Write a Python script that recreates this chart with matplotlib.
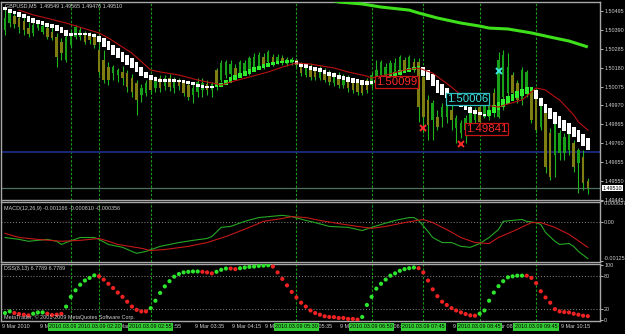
import matplotlib
matplotlib.use("Agg")
import matplotlib.pyplot as plt
import numpy as np
from matplotlib import font_manager
from matplotlib.transforms import blended_transform_factory, offset_copy

# ---------------- data ----------------
symbol = "GBPUSD,M5"

c_open = [1.50389, 1.50428, 1.50467, 1.50456, 1.50439, 1.50400, 1.50373, 1.50400, 1.50378, 1.50400,
          1.50378, 1.50350, 1.50322, 1.50222, 1.50306, 1.50350, 1.50350, 1.50361, 1.50356, 1.50350,
          1.50278, 1.50222, 1.50183, 1.50150, 1.50139, 1.50156, 1.50150, 1.50122, 1.50095, 1.50028,
          1.50039, 1.50128, 1.50067, 1.50122, 1.50078, 1.50122, 1.50067, 1.50106, 1.50100, 1.50083,
          1.50028, 1.50044, 1.50056, 1.50089, 1.50056, 1.50167, 1.50111, 1.50139, 1.50145, 1.50178,
          1.50150, 1.50156, 1.50150, 1.50183, 1.50183, 1.50239, 1.50211, 1.50239, 1.50211, 1.50234,
          1.50200, 1.50206, 1.50222, 1.50195, 1.50139, 1.50183, 1.50167, 1.50122, 1.50167, 1.50150,
          1.50095, 1.50139, 1.50083, 1.50122, 1.50111, 1.50095, 1.50095, 1.50111, 1.50083, 1.50100,
          1.50139, 1.50122, 1.50128, 1.50139, 1.50150, 1.50222, 1.50178, 1.50211, 1.50211, 1.50128,
          1.50000, 1.49889, 1.49905, 1.49905, 1.49905, 1.49944, 1.49844, 1.49817, 1.49833, 1.49872,
          1.49889, 1.49961, 1.49905, 1.49905, 1.50039, 1.49905, 1.50017, 1.50039, 1.50139, 1.50095,
          1.50000, 1.50039, 1.50056, 1.50028, 1.49850, 1.49928, 1.49817, 1.49694, 1.49706, 1.49706,
          1.49722, 1.49761, 1.49650, 1.49683, 1.49549]
c_high = [1.50517, 1.50506, 1.50495, 1.50478, 1.50461, 1.50434, 1.50439, 1.50445, 1.50434, 1.50423,
          1.50406, 1.50373, 1.50345, 1.50373, 1.50389, 1.50417, 1.50406, 1.50384, 1.50378, 1.50373,
          1.50350, 1.50278, 1.50211, 1.50195, 1.50178, 1.50189, 1.50167, 1.50145, 1.50111, 1.50089,
          1.50111, 1.50139, 1.50133, 1.50139, 1.50139, 1.50145, 1.50128, 1.50122, 1.50111, 1.50100,
          1.50089, 1.50122, 1.50122, 1.50111, 1.50100, 1.50178, 1.50222, 1.50222, 1.50222, 1.50200,
          1.50222, 1.50222, 1.50245, 1.50261, 1.50267, 1.50261, 1.50278, 1.50256, 1.50256, 1.50250,
          1.50239, 1.50239, 1.50234, 1.50211, 1.50200, 1.50200, 1.50183, 1.50189, 1.50178, 1.50167,
          1.50156, 1.50156, 1.50145, 1.50139, 1.50122, 1.50111, 1.50111, 1.50122, 1.50156, 1.50222,
          1.50222, 1.50206, 1.50222, 1.50234, 1.50250, 1.50239, 1.50250, 1.50234, 1.50234, 1.50156,
          1.50028, 1.50000, 1.49944, 1.49983, 1.50000, 1.49972, 1.49917, 1.49889, 1.49917, 1.49972,
          1.49961, 1.49983, 1.50017, 1.50028, 1.50067, 1.50267, 1.50278, 1.50261, 1.50156, 1.50111,
          1.50183, 1.50167, 1.50067, 1.50039, 1.50017, 1.49956, 1.49844, 1.49900, 1.49833, 1.49817,
          1.49833, 1.49778, 1.49733, 1.49722, 1.49565]
c_low = [1.50361, 1.50406, 1.50400, 1.50373, 1.50361, 1.50350, 1.50356, 1.50389, 1.50367, 1.50339,
         1.50334, 1.50183, 1.50222, 1.50211, 1.50295, 1.50339, 1.50334, 1.50311, 1.50311, 1.50289,
         1.50139, 1.50095, 1.50083, 1.50111, 1.50100, 1.50083, 1.50044, 1.50017, 1.49917, 1.49989,
         1.50022, 1.50033, 1.50044, 1.50044, 1.50056, 1.50050, 1.50039, 1.50056, 1.50022, 1.50000,
         1.49983, 1.50017, 1.50017, 1.50028, 1.50017, 1.50056, 1.50100, 1.50122, 1.50128, 1.50122,
         1.50133, 1.50139, 1.50139, 1.50172, 1.50172, 1.50172, 1.50200, 1.50189, 1.50200, 1.50195,
         1.50189, 1.50195, 1.50178, 1.50133, 1.50128, 1.50111, 1.50111, 1.50111, 1.50100, 1.50083,
         1.50078, 1.50067, 1.50067, 1.50044, 1.50039, 1.50028, 1.50028, 1.50039, 1.50067, 1.50083,
         1.50111, 1.50100, 1.50111, 1.50122, 1.50139, 1.50156, 1.50167, 1.50156, 1.49878, 1.49817,
         1.49778, 1.49778, 1.49833, 1.49850, 1.49872, 1.49833, 1.49761, 1.49789, 1.49761, 1.49844,
         1.49861, 1.49817, 1.49900, 1.49889, 1.49905, 1.49900, 1.49944, 1.50017, 1.50017, 1.49983,
         1.49972, 1.50017, 1.49872, 1.49817, 1.49833, 1.49594, 1.49556, 1.49572, 1.49667, 1.49667,
         1.49694, 1.49600, 1.49483, 1.49500, 1.49476]
c_close = [1.50456, 1.50484, 1.50423, 1.50406, 1.50389, 1.50367, 1.50417, 1.50423, 1.50411, 1.50350,
           1.50345, 1.50239, 1.50261, 1.50350, 1.50361, 1.50406, 1.50389, 1.50322, 1.50334, 1.50306,
           1.50156, 1.50111, 1.50111, 1.50183, 1.50167, 1.50122, 1.50072, 1.50044, 1.50000, 1.50067,
           1.50095, 1.50056, 1.50117, 1.50067, 1.50122, 1.50072, 1.50111, 1.50078, 1.50039, 1.50017,
           1.50067, 1.50100, 1.50095, 1.50056, 1.50089, 1.50072, 1.50206, 1.50211, 1.50200, 1.50139,
           1.50211, 1.50206, 1.50234, 1.50239, 1.50250, 1.50183, 1.50267, 1.50206, 1.50239, 1.50206,
           1.50228, 1.50228, 1.50195, 1.50150, 1.50183, 1.50128, 1.50128, 1.50178, 1.50111, 1.50100,
           1.50139, 1.50083, 1.50128, 1.50067, 1.50056, 1.50044, 1.50039, 1.50056, 1.50139, 1.50167,
           1.50211, 1.50183, 1.50206, 1.50206, 1.50239, 1.50167, 1.50239, 1.50178, 1.49961, 1.49905,
           1.49861, 1.49983, 1.49850, 1.49961, 1.49983, 1.49889, 1.49900, 1.49872, 1.49900, 1.49956,
           1.49944, 1.49878, 1.50000, 1.50011, 1.49944, 1.50222, 1.50250, 1.50183, 1.50039, 1.50000,
           1.50167, 1.50156, 1.49889, 1.49833, 1.50000, 1.49628, 1.49572, 1.49889, 1.49817, 1.49794,
           1.49817, 1.49628, 1.49722, 1.49539, 1.49510]

# smoothed Heiken Ashi bodies
ha_open = [1.50517, 1.50506, 1.50495, 1.50489, 1.50478, 1.50467, 1.50456, 1.50445, 1.50439, 1.50428,
           1.50423, 1.50417, 1.50406, 1.50389, 1.50373, 1.50373, 1.50373, 1.50373, 1.50373, 1.50367,
           1.50356, 1.50345, 1.50328, 1.50306, 1.50289, 1.50267, 1.50250, 1.50234, 1.50211, 1.50183,
           1.50156, 1.50139, 1.50128, 1.50117, 1.50117, 1.50117, 1.50117, 1.50111, 1.50111, 1.50106,
           1.50100, 1.50089, 1.50083, 1.50078, 1.50078, 1.50072, 1.50072, 1.50083, 1.50095, 1.50111,
           1.50122, 1.50133, 1.50145, 1.50156, 1.50167, 1.50178, 1.50183, 1.50195, 1.50200, 1.50206,
           1.50206, 1.50211, 1.50217, 1.50206, 1.50200, 1.50189, 1.50183, 1.50178, 1.50167, 1.50156,
           1.50150, 1.50139, 1.50133, 1.50128, 1.50122, 1.50117, 1.50111, 1.50106, 1.50106, 1.50095,
           1.50100, 1.50111, 1.50122, 1.50128, 1.50139, 1.50150, 1.50156, 1.50167, 1.50178, 1.50183,
           1.50167, 1.50145, 1.50111, 1.50089, 1.50067, 1.50039, 1.50017, 1.50000, 1.49978, 1.49961,
           1.49944, 1.49933, 1.49922, 1.49911, 1.49928, 1.49944, 1.49961, 1.49978, 1.49994, 1.50011,
           1.50022, 1.50033, 1.50050, 1.50056, 1.50011, 1.49978, 1.49956, 1.49933, 1.49911, 1.49889,
           1.49872, 1.49850, 1.49833, 1.49811, 1.49789]
ha_close = [1.50500, 1.50484, 1.50478, 1.50461, 1.50456, 1.50434, 1.50428, 1.50423, 1.50417, 1.50406,
            1.50400, 1.50384, 1.50373, 1.50356, 1.50356, 1.50361, 1.50361, 1.50361, 1.50356, 1.50350,
            1.50322, 1.50295, 1.50278, 1.50250, 1.50234, 1.50211, 1.50195, 1.50178, 1.50156, 1.50133,
            1.50122, 1.50111, 1.50106, 1.50100, 1.50100, 1.50100, 1.50100, 1.50100, 1.50095, 1.50089,
            1.50083, 1.50072, 1.50067, 1.50067, 1.50067, 1.50089, 1.50095, 1.50111, 1.50128, 1.50139,
            1.50150, 1.50161, 1.50172, 1.50183, 1.50189, 1.50200, 1.50206, 1.50211, 1.50217, 1.50217,
            1.50222, 1.50222, 1.50200, 1.50183, 1.50178, 1.50167, 1.50161, 1.50156, 1.50145, 1.50133,
            1.50128, 1.50117, 1.50111, 1.50100, 1.50095, 1.50095, 1.50083, 1.50083, 1.50089, 1.50111,
            1.50122, 1.50133, 1.50145, 1.50156, 1.50167, 1.50172, 1.50178, 1.50183, 1.50189, 1.50133,
            1.50111, 1.50078, 1.50039, 1.50028, 1.50011, 1.49994, 1.49978, 1.49961, 1.49944, 1.49928,
            1.49922, 1.49917, 1.49911, 1.49944, 1.49972, 1.49989, 1.50006, 1.50022, 1.50033, 1.50050,
            1.50061, 1.50072, 1.50072, 1.50006, 1.49967, 1.49928, 1.49894, 1.49867, 1.49844, 1.49828,
            1.49811, 1.49794, 1.49767, 1.49744, 1.49722]

# moving averages (sampled points)
ma_idx = [3, 6, 8, 13, 20, 22, 27, 31, 33, 37, 41, 44, 46, 48, 52, 56, 59, 62, 65, 70,
          73, 77, 78, 82, 85, 88, 91, 95, 98, 102, 105, 107, 110, 112, 113, 115, 117, 118, 121, 122, 124]
ma_vals = [1.50500, 1.50473, 1.50461, 1.50428, 1.50373, 1.50345, 1.50261, 1.50167, 1.50156, 1.50139,
           1.50111, 1.50095, 1.50083, 1.50100, 1.50128, 1.50156, 1.50183, 1.50206, 1.50200, 1.50178,
           1.50156, 1.50133, 1.50122, 1.50145, 1.50167, 1.50178, 1.50150, 1.50072, 1.50006, 1.49972,
           1.49961, 1.49978, 1.50000, 1.50044, 1.50067, 1.50056, 1.50017, 1.50000, 1.49917, 1.49878,
           1.49833]
slow_ma_idx = [68, 71, 76, 80, 86, 88, 92, 97, 101, 103, 107, 112, 116, 120, 124]
slow_ma_vals = [1.50565, 1.50545, 1.50534, 1.50517, 1.50500, 1.50484, 1.50456, 1.50428, 1.50411,
                1.50400, 1.50395, 1.50373, 1.50350, 1.50328, 1.50295]

level_line = 1.49711
price_ticks = [1.50495, 1.50390, 1.50285, 1.50180, 1.50075, 1.49970,
               1.49865, 1.49760, 1.49655, 1.49550, 1.49445]

# price labels and signal crosses
label_bar = [79, 94, 98]
label_price = [1.50099, 1.50006, 1.49841]
label_kind = ["sell", "buy", "sell"]
sell_idx = [89, 97]
sell_price = [1.49844, 1.49756]
buy_idx = [105]
buy_price = [1.50161]

# MACD (sampled points)
macd_idx = [0, 3, 5, 7, 9, 11, 12, 13, 16, 19, 20, 22, 25, 27, 28, 30, 33, 37, 40, 43,
            44, 46, 48, 51, 54, 59, 61, 64, 66, 69, 73, 76, 78, 80, 83, 86, 87, 88, 90, 91,
            93, 95, 97, 99, 101, 103, 105, 106, 108, 110, 111, 113, 114, 115, 117, 118, 120, 121, 122, 124]
macd_main = [-0.00050, -0.00056, -0.00062, -0.00059, -0.00056, -0.00062, -0.00072, -0.00066, -0.00050, -0.00050,
             -0.00056, -0.00072, -0.00081, -0.00094, -0.00100, -0.00094, -0.00078, -0.00066, -0.00059, -0.00053,
             -0.00047, -0.00018, -0.00015, 0.00001, 0.00013, 0.00020, 0.00016, 0.00004, -0.00003, -0.00015,
             -0.00018, -0.00028, -0.00018, -0.00009, 0.00004, 0.00013, 0.00013, 0.00004, -0.00031, -0.00050,
             -0.00066, -0.00066, -0.00078, -0.00081, -0.00069, -0.00050, -0.00025, 0.00001, 0.00004, 0.00007,
             0.00001, -0.00003, -0.00009, -0.00034, -0.00062, -0.00072, -0.00069, -0.00078, -0.00094, -0.001166]
sig_idx = [0, 3, 7, 12, 16, 20, 22, 24, 29, 31, 34, 39, 43, 47, 52, 55, 59, 61, 64, 67,
           71, 75, 78, 81, 85, 89, 91, 94, 97, 100, 103, 105, 108, 112, 114, 117, 120, 124]
sig_vals = [-0.00037, -0.00050, -0.00056, -0.00062, -0.00059, -0.00053, -0.00062, -0.00072, -0.00084, -0.00091,
            -0.00088, -0.00078, -0.00066, -0.00047, -0.00018, 0.00001, 0.00010, 0.00016, 0.00013, 0.00004,
            -0.00006, -0.00015, -0.00021, -0.00015, -0.00003, 0.00007, -0.00003, -0.00025, -0.00050, -0.00066,
            -0.00069, -0.00050, -0.00031, -0.00003, -0.00003, -0.00018, -0.00040, -0.00081]
macd_ticks = [0.000637, 0.0, -0.001253]
macd_tick_labels = ["0.000637", "0.00", "-0.001253"]

# DSS, one value per bar, g = rising dot, r = falling dot
dss = [12.4, 15.3, 12.4, 10.6, 9.4, 8.2, 11.2, 13.5, 13.5, 11.2,
       8.8, 9.4, 11.0, 24.0, 41.7, 53.5, 63.6, 71.2, 75.9, 80.5,
       78.8, 72.9, 65.3, 57.6, 49.4, 41.7, 32.9, 24.1, 18.2, 15.3,
       15.3, 21.2, 34.7, 48.8, 60.6, 70.0, 78.2, 83.0, 85.9, 87.0,
       87.6, 87.6, 87.0, 85.9, 84.1, 87.0, 90.6, 92.9, 92.9, 91.8,
       93.5, 94.7, 95.9, 96.5, 97.6, 98.2, 98.8, 96.5, 85.9, 74.2,
       62.4, 50.6, 40.6, 31.1, 24.1, 17.0, 12.4, 9.4, 6.5, 5.3,
       5.0, 3.5, 3.5, 1.8, 1.8, 0.6, 5.3, 27.0, 41.7, 56.5,
       65.3, 72.9, 80.0, 84.1, 88.8, 91.8, 93.5, 94.7, 93.5, 85.9,
       71.2, 55.3, 42.9, 32.9, 27.0, 21.2, 17.0, 13.5, 10.6, 8.2,
       7.6, 11.2, 17.0, 34.7, 49.4, 61.0, 70.0, 77.0, 78.8, 80.0,
       80.0, 80.0, 75.9, 66.5, 51.8, 40.6, 31.1, 19.4, 15.3, 14.1,
       13.5, 11.2, 9.4, 7.6, 6.7789]
dss_dir = ("ggrrrrgggrrrrggggggg"
           "rrrrrrrrrrrgggggggggg"
           "grrrgggrrggggggg"
           "rrrrrrrrrrrrrrrrrrr"
           "gggggggggggg"
           "rrrrrrrrrrrrr"
           "gggggggggg"
           "rrrrrrrrrrrrrr")
dss_ticks = [100, 80, 20, 0]

# time scale
vline_idx = [14, 20, 31, 62, 78, 89, 101, 113]
vline_text = ["2010.03.09 01:55", "2010.03.09 02:20", "2010.03.09 02:55", "2010.03.09 05:30",
              "2010.03.09 06:50", "2010.03.09 07:45", "2010.03.09 08:45", "2010.03.09 09:45"]
time_idx = [0, 8, 24, 32, 41, 49, 56, 64, 72, 80, 96, 104, 119]
time_text = ["9 Mar 2010", "9 Mar 01:35", "9 Mar 02:15", "9 Mar 02:55", "9 Mar 03:35",
             "9 Mar 04:15", "9 Mar 04:55", "9 Mar 05:35", "9 Mar 06:15", "9 Mar 06:55",
             "9 Mar 08:15", "9 Mar 08:55", "9 Mar 10:15"]

# ---------------- style ----------------
FRAME = "#a8a8a8"
TXT = "#d0d0d0"
VGREEN = "#179a17"
DOT = "#8a8a8a"
BULL = "#18a018"
BEAR = "#7e7e12"
WICK = "#1fb41f"
HA_UP = "#2fee2f"
HA_DN = "#ffffff"
KIND_TEXT = {"sell": "#ff2a2a", "buy": "#3ee6e6"}
KIND_EDGE = {"sell": "#c81414", "buy": "#2fbcbc"}

installed = {f.name for f in font_manager.fontManager.ttflist}
narrow = "Liberation Sans Narrow" in installed
plt.rcParams["font.family"] = ["Liberation Sans Narrow" if narrow else "Liberation Sans", "DejaVu Sans"]
fs = 4.6 if narrow else 3.9
fs_big = 10 if narrow else 8.2

W, H = 625, 334
fig = plt.figure(figsize=(W / 100, H / 100), dpi=100, facecolor="black")


def panel(top, bottom):
    return fig.add_axes([1 / W, 1 - bottom / H, 599 / W, (bottom - top) / H], facecolor="black")


ax = panel(2, 200)
ax_macd = panel(201.5, 262)
ax_dss = panel(263.5, 321)

x_left, x_right = (1 - 5) / 4.7, (600 - 5) / 4.7
for a in (ax, ax_macd, ax_dss):
    a.set_xlim(x_left, x_right)
    a.set_xticks([])
    for s in a.spines.values():
        s.set_color(FRAME)
        s.set_linewidth(1.0)
    a.yaxis.tick_right()
    a.tick_params(axis="y", colors=TXT, labelsize=fs, length=2, width=0.6, pad=1)
    for v in vline_idx:
        a.axvline(v, color=VGREEN, lw=0.8, ls=(0, (2.2, 1.6)), zorder=1)

# ---------------- main price panel ----------------
idx = np.arange(len(c_open))
o, h, l, c = map(np.array, (c_open, c_high, c_low, c_close))
bull = c >= o
ax.vlines(idx, l, h, color=WICK, lw=0.8, zorder=2)
ax.bar(idx, np.maximum(np.abs(c - o), 0.00002), bottom=np.minimum(o, c), width=0.55,
       color=np.where(bull, BULL, BEAR), lw=0, zorder=2)

ho, hc = np.array(ha_open), np.array(ha_close)
ax.bar(idx, np.maximum(np.abs(hc - ho), 0.00002), bottom=np.minimum(ho, hc), width=0.78,
       color=np.where(hc > ho, HA_UP, HA_DN), lw=0, zorder=3)

ax.plot(ma_idx, ma_vals, color="#b81010", lw=0.8, zorder=4)
ax.plot(slow_ma_idx, slow_ma_vals, color="#3ee01c", lw=2.2, zorder=4, solid_capstyle="butt")
ax.axhline(level_line, color="#1c2b80", lw=1.3, zorder=1)
ax.axhline(c[-1], color="#4f6f5f", lw=0.9, zorder=1)

ax.plot(sell_idx, sell_price, "x", color="#ff2a2a", ms=4.5, mew=1.4, zorder=6)
ax.plot(buy_idx, buy_price, "x", color="#3ee6e6", ms=4.5, mew=1.4, zorder=6)

for b, p, k in zip(label_bar, label_price, label_kind):
    ax.text(b, p, f"{p:.5f}", color=KIND_TEXT[k], fontsize=fs_big, ha="left", va="center", zorder=7,
            bbox=dict(boxstyle="square,pad=0.08", fc="black", ec=KIND_EDGE[k], lw=0.9))

ax.set_ylim(1.49444, 1.50545)
ax.set_yticks(price_ticks)
ax.set_yticklabels([f"{t:.5f}" for t in price_ticks])

tr = blended_transform_factory(ax.transAxes, ax.transData)
ax.text(1.004, c[-1], f"{c[-1]:.5f}", transform=tr, ha="left", va="center", fontsize=fs,
        color="black", zorder=8, clip_on=False,
        bbox=dict(boxstyle="square,pad=0.15", fc="white", ec="none"))
ax.text(0.006, 0.992, f"{symbol}  {o[-1]:.5f} {h[-1]:.5f} {l[-1]:.5f} {c[-1]:.5f}",
        transform=ax.transAxes, ha="left", va="top", fontsize=fs, color=TXT, zorder=8)

# ---------------- MACD ----------------
ax_macd.set_ylim(-0.001274, 0.000637)
ax_macd.axhline(0, color=DOT, lw=0.7, ls=(0, (1, 2)), zorder=1)
ax_macd.plot(macd_idx, macd_main, color="#25a825", lw=0.8, zorder=3)
ax_macd.plot(sig_idx, sig_vals, color="#c41818", lw=0.8, zorder=3)
ax_macd.set_yticks(macd_ticks)
ax_macd.set_yticklabels(macd_tick_labels)
mlabels = ax_macd.get_yticklabels()
mlabels[0].set_va("top")
mlabels[2].set_va("bottom")
ax_macd.text(0.005, 0.93,
             f"MACD(12,26,9) {macd_main[-1]:.6f} {sig_vals[-1]:.6f} {macd_main[-1] - sig_vals[-1]:.6f}",
             transform=ax_macd.transAxes, ha="left", va="top", fontsize=fs, color=TXT)

# ---------------- DSS ----------------
ax_dss.set_ylim(-2, 102)
for lv in (80, 20):
    ax_dss.axhline(lv, color=DOT, lw=0.7, ls=(0, (1, 2)), zorder=1)
dss_col = ["#2ee62e" if d == "g" else "#ee2222" for d in dss_dir]
ax_dss.scatter(idx, dss, s=9, c=dss_col, linewidths=0, zorder=3)
ax_dss.set_yticks(dss_ticks)
ax_dss.set_yticklabels([str(t) for t in dss_ticks])
ax_dss.text(0.005, 0.955, f"DSS(8,13) {dss[-1]:.4f} {dss[-1]:.4f}",
            transform=ax_dss.transAxes, ha="left", va="top", fontsize=fs, color=TXT)
ax_dss.text(0.005, 0.01, "MetaTrader, \u00a9 2001-2009 MetaQuotes Software Corp.",
            transform=ax_dss.transAxes, ha="left", va="bottom", fontsize=fs, color=TXT, zorder=5)

# time scale under the DSS panel
ttr = blended_transform_factory(ax_dss.transData, ax_dss.transAxes)
ttr_left = offset_copy(ttr, fig=fig, x=-3, y=0, units="dots")
for t, s in zip(time_idx, time_text):
    ax_dss.text(t, -0.104, s, transform=ttr_left, ha="left", va="center", fontsize=fs,
                color=TXT, zorder=5, clip_on=False)
for k, (t, s) in enumerate(zip(vline_idx, vline_text)):
    ax_dss.text(t, -0.104, s, transform=ttr, ha="center", va="center", fontsize=fs,
                color="black", zorder=6 + k, clip_on=False,
                bbox=dict(boxstyle="square,pad=0.25", fc="#34cc34", ec="none"))

fig.savefig("out.png", dpi=100, facecolor="black")
